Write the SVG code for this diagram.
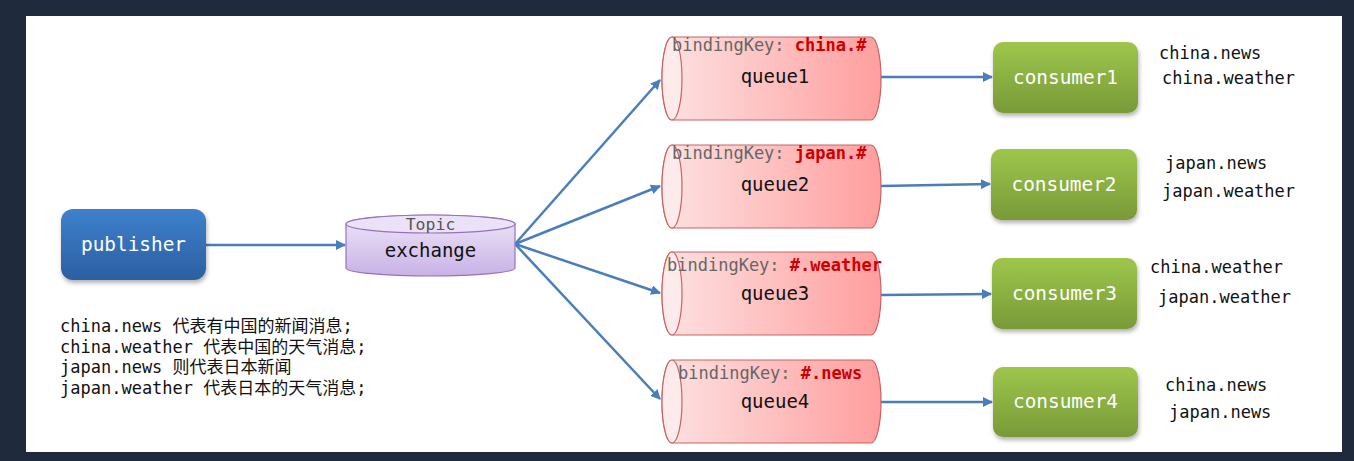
<svg xmlns="http://www.w3.org/2000/svg" width="1354" height="461" viewBox="0 0 1354 461">
<defs>
<linearGradient id="gBlue" x1="0" y1="0" x2="0" y2="1"><stop offset="0" stop-color="#3e80cc"/><stop offset="1" stop-color="#2c5fa3"/></linearGradient>
<linearGradient id="gGreen" x1="0" y1="0" x2="0" y2="1"><stop offset="0" stop-color="#9ec64c"/><stop offset="1" stop-color="#789a38"/></linearGradient>
<linearGradient id="gRed" x1="0" y1="0" x2="1" y2="0"><stop offset="0" stop-color="#fde2e2"/><stop offset="1" stop-color="#ff9e9e"/></linearGradient>
<linearGradient id="gPurple" x1="0" y1="0" x2="0" y2="1"><stop offset="0" stop-color="#efe6f8"/><stop offset="1" stop-color="#c8b2e6"/></linearGradient>
<filter id="sh" x="-10%" y="-10%" width="130%" height="140%"><feDropShadow dx="1" dy="3" stdDeviation="2" flood-color="#000" flood-opacity="0.3"/></filter>
<marker id="arr" viewBox="0 0 10 10" refX="9" refY="5" markerWidth="4" markerHeight="4" orient="auto" markerUnits="strokeWidth"><path d="M0,0 L10,5 L0,10 Z" fill="#4a7ebb"/></marker>
<style>
.mono{font-family:"DejaVu Sans Mono","Liberation Mono","Noto Sans CJK SC",monospace;}
.lbl{font-size:17px;fill:#111;}
.q{fill:url(#gRed);stroke:#c86464;stroke-width:1.2;}
.qcap{fill:#fdeaea;stroke:#c86464;stroke-width:1.2;}
.qt{font-size:19px;fill:#111;text-anchor:middle;}
.bk{font-size:17px;fill:#666;}
.bkv{fill:#cc0000;font-weight:bold;}
.cons{fill:url(#gGreen);filter:url(#sh);}
.ct{font-size:19.4px;fill:#fff;text-anchor:middle;}
.edge{stroke:#4a7ebb;stroke-width:2.5;fill:none;marker-end:url(#arr);}
</style>
</defs>
<rect x="0" y="0" width="1354" height="461" fill="#1f2a3c"/>
<rect x="26" y="16" width="1316" height="436" fill="#ffffff"/>

<g id="connectors">
<line class="edge" x1="206" y1="245" x2="345" y2="245"/>
<line class="edge" x1="515" y1="244" x2="660" y2="80"/>
<line class="edge" x1="515" y1="244" x2="660" y2="186"/>
<line class="edge" x1="515" y1="244" x2="660" y2="293"/>
<line class="edge" x1="515" y1="244" x2="660" y2="399"/>
<line class="edge" x1="881" y1="77" x2="992" y2="77"/>
<line class="edge" x1="881" y1="186" x2="990" y2="184"/>
<line class="edge" x1="881" y1="295" x2="991" y2="294"/>
<line class="edge" x1="881" y1="402" x2="992" y2="402"/>
</g>

<g id="publisher">
<rect x="61" y="209" width="145" height="71" rx="12" fill="url(#gBlue)" filter="url(#sh)"/>
<text class="mono" x="133.5" y="250.5" font-size="19.4" fill="#fff" text-anchor="middle">publisher</text>
</g>

<g id="exchange">
<path d="M346,224 V268 A84.5,8 0 0 0 515,268 V224 A84.5,9 0 0 0 346,224 Z" fill="url(#gPurple)" stroke="#9673b8" stroke-width="1.2"/>
<ellipse cx="430.5" cy="224" rx="84.5" ry="9" fill="#ece2f7" stroke="#9673b8" stroke-width="1.2"/>
<text class="mono" x="430.5" y="230" font-size="16.5" fill="#555" text-anchor="middle">Topic</text>
<text class="mono" x="430.5" y="257" font-size="19" fill="#111" text-anchor="middle">exchange</text>
</g>

<g id="queue1">
<path class="q" d="M672,37 H871 A10,41.5 0 0 1 871,120 H672 A10,41.5 0 0 1 672,37 Z"/>
<ellipse class="qcap" cx="672" cy="78.5" rx="10" ry="41.5"/>
<text class="mono bk" x="672" y="51">bindingKey: <tspan class="bkv">china.#</tspan></text>
<text class="mono qt" x="775" y="83">queue1</text>
</g>

<g id="queue2">
<path class="q" d="M672,145 H871 A10,41.5 0 0 1 871,228 H672 A10,41.5 0 0 1 672,145 Z"/>
<ellipse class="qcap" cx="672" cy="186.5" rx="10" ry="41.5"/>
<text class="mono bk" x="672" y="159">bindingKey: <tspan class="bkv">japan.#</tspan></text>
<text class="mono qt" x="775" y="191">queue2</text>
</g>

<g id="queue3">
<path class="q" d="M672,252 H871 A10,41.5 0 0 1 871,335 H672 A10,41.5 0 0 1 672,252 Z"/>
<ellipse class="qcap" cx="672" cy="293.5" rx="10" ry="41.5"/>
<text class="mono bk" x="667" y="271">bindingKey: <tspan class="bkv">#.weather</tspan></text>
<text class="mono qt" x="775" y="300">queue3</text>
</g>

<g id="queue4">
<path class="q" d="M672,360 H871 A10,41.5 0 0 1 871,443 H672 A10,41.5 0 0 1 672,360 Z"/>
<ellipse class="qcap" cx="672" cy="401.5" rx="10" ry="41.5"/>
<text class="mono bk" x="678" y="379">bindingKey: <tspan class="bkv">#.news</tspan></text>
<text class="mono qt" x="775" y="408">queue4</text>
</g>

<g id="consumer1">
<rect class="cons" x="993" y="42" width="145" height="71" rx="10"/>
<text class="mono ct" x="1065.5" y="84">consumer1</text>
<text class="mono lbl" x="1159" y="59">china.news</text>
<text class="mono lbl" x="1162" y="84">china.weather</text>
</g>

<g id="consumer2">
<rect class="cons" x="991" y="149" width="146" height="71" rx="10"/>
<text class="mono ct" x="1064" y="191">consumer2</text>
<text class="mono lbl" x="1165" y="169">japan.news</text>
<text class="mono lbl" x="1162" y="197">japan.weather</text>
</g>

<g id="consumer3">
<rect class="cons" x="992" y="258" width="145" height="71" rx="10"/>
<text class="mono ct" x="1064.5" y="300">consumer3</text>
<text class="mono lbl" x="1150" y="273">china.weather</text>
<text class="mono lbl" x="1158" y="303">japan.weather</text>
</g>

<g id="consumer4">
<rect class="cons" x="993" y="367" width="145" height="70" rx="10"/>
<text class="mono ct" x="1065.5" y="408">consumer4</text>
<text class="mono lbl" x="1165" y="391">china.news</text>
<text class="mono lbl" x="1169" y="418">japan.news</text>
</g>

<g id="notes">
<text class="mono lbl" x="60" y="332">china.news 代表有中国的新闻消息;</text>
<text class="mono lbl" x="60" y="352.5">china.weather 代表中国的天气消息;</text>
<text class="mono lbl" x="60" y="373">japan.news 则代表日本新闻</text>
<text class="mono lbl" x="60" y="393.5">japan.weather 代表日本的天气消息;</text>
</g>
</svg>
